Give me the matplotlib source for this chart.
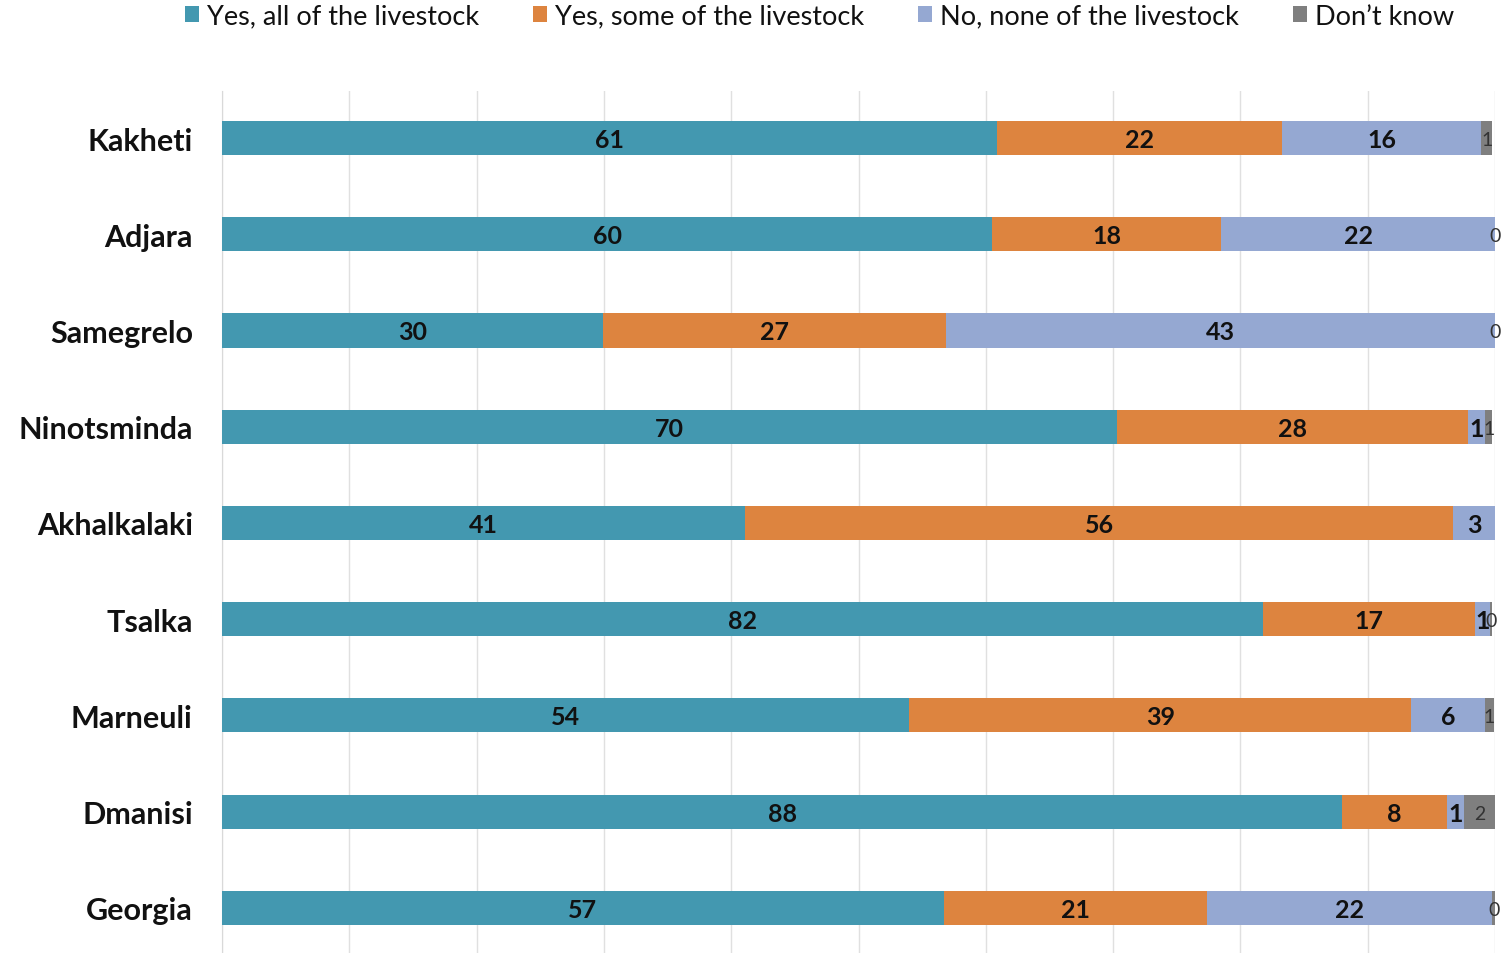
import numpy as np
import matplotlib
matplotlib.use("Agg")
import matplotlib.pyplot as plt
from matplotlib.patches import Patch

plt.rcParams["font.family"] = ["Lato", "DejaVu Sans"]

# ── Data (percent of households) ────────────────────────────────────────────
regions = ["Kakheti", "Adjara", "Samegrelo", "Ninotsminda", "Akhalkalaki",
           "Tsalka", "Marneuli", "Dmanisi", "Georgia"]
yes_all  = [60.9, 60.5, 29.9, 70.3, 41.1, 81.8, 54.0, 88.0, 56.7]
yes_some = [22.4, 18.0, 27.0, 27.6, 55.6, 16.6, 39.4, 8.2, 20.7]
no_none  = [15.6, 21.5, 43.1, 1.3, 3.3, 1.2, 5.8, 1.4, 22.4]
dont_know = [0.9, 0.0, 0.0, 0.6, np.nan, 0.2, 0.7, 2.4, 0.3]

series = [
    ("Yes, all of the livestock", yes_all, "#4398B0", "bold"),
    ("Yes, some of the livestock", yes_some, "#DD843F", "bold"),
    ("No, none of the livestock", no_none, "#95A8D2", "bold"),
    ("Don\u2019t know", dont_know, "#7F7F7F", "normal"),
]

fig = plt.figure(figsize=(15.01, 9.54), dpi=100)
ax = fig.add_axes([222 / 1501, 0.0, (1495 - 222) / 1501, (954 - 92) / 954])

y = np.arange(len(regions))
left = np.zeros(len(regions))
handles = []
for name, vals, color, weight in series:
    vals = np.array(vals, dtype=float)
    ax.barh(y, np.nan_to_num(vals), left=left, height=0.355, color=color, zorder=3)
    for yi, l, v in zip(y, left, vals):
        if np.isnan(v):
            continue
        ax.text(l + v / 2, yi + 0.015, f"{v:.0f}", ha="center", va="center",
                fontsize=18 if weight == "bold" else 14, fontweight=weight,
                color="#111111" if weight == "bold" else "#333333", zorder=4)
    left += np.nan_to_num(vals)
    handles.append(Patch(facecolor=color, label=name))

ax.set_xlim(0, 100)
ax.set_ylim(8.47, -0.49)
ax.set_xticks(np.arange(0, 101, 10))
ax.xaxis.grid(True, color="#e0e0e0", lw=1, zorder=0)
ax.tick_params(axis="x", length=0, labelbottom=False)
ax.tick_params(axis="y", length=0, pad=21)
ax.set_yticks(y)
ax.set_yticklabels(regions, fontsize=22, fontweight="bold", color="#111111")
for s in ["top", "right", "bottom"]:
    ax.spines[s].set_visible(False)
ax.spines["left"].set_color("#d9d9d9")

fig.legend(handles=handles, loc="center", bbox_to_anchor=(0.546, 0.982),
           ncol=4, frameon=False, fontsize=19.5, handlelength=0.5,
           handleheight=0.5, handletextpad=0.3, columnspacing=2.0,
           labelcolor="#111111")

fig.savefig("out.png", dpi=100)
